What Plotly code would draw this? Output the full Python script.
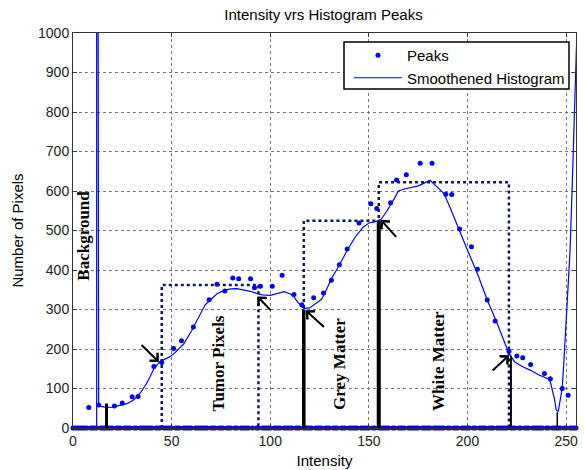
import plotly.graph_objects as go

# ---------------- data ----------------
intensity = list(range(0, 257))

peak_x = [8, 13, 21, 25, 30, 33, 41, 45, 51, 55, 61, 69, 73, 77, 81, 84, 90, 92, 95, 101,
          106, 112, 116, 122, 127, 131, 135, 139, 145, 151, 154, 161, 164, 169, 176, 182,
          189, 192, 196, 202, 205, 210, 214, 221, 225, 228, 232, 239, 242, 248, 251]
peak_y = [52, 58, 56, 63, 79, 80, 156, 166, 201, 221, 256, 325, 364, 347, 380, 378, 378,
          355, 359, 359, 387, 338, 312, 330, 342, 374, 413, 453, 519, 568, 556, 570, 628,
          641, 670, 670, 592, 591, 504, 459, 402, 324, 271, 194, 182, 178, 161, 138, 125,
          100, 83]

smooth_x = [0, 12, 12, 13, 15, 17, 20, 24, 27, 29,
            31, 34, 37, 39, 41, 44, 46, 49, 52, 56,
            60, 64, 67, 70, 73, 77, 80, 83, 87, 90,
            93, 96, 100, 104, 107, 110, 112, 114, 117, 120,
            123, 126, 128, 131, 135, 139, 143, 147, 150, 153,
            156, 159, 163, 165, 168, 172, 175, 178, 181, 184,
            188, 191, 195, 200, 205, 210, 215, 218, 221, 224,
            228, 232, 236, 241, 242, 244, 245, 246, 247, 248,
            249, 250, 251, 252, 253, 254, 255, 256]
smooth_y = [0, 0, 4000, 55, 54, 52, 53, 57, 61, 66,
            72, 88, 110, 129, 150, 168, 173, 180, 192, 212,
            245, 285, 312, 326, 340, 349, 352, 353, 350, 346,
            341, 337, 336, 342, 345, 340, 332, 318, 303, 304,
            314, 326, 345, 378, 412, 450, 483, 508, 519, 522,
            527, 548, 582, 600, 605, 609, 613, 620, 627, 613,
            594, 560, 510, 450, 391, 324, 265, 225, 189, 167,
            155, 146, 135, 124, 117, 75, 45, 42, 70, 100,
            180, 270, 330, 450, 600, 750, 940, 1090]

# threshold bars (intensity, height)
bar_x = [17, 117, 155, 222, 245.5]
bar_top = [62, 300, 525, 183, 40]
bar_w = [3, 3.5, 4, 2, 1.5]

# dotted class boxes: (left, right, top)
box_left = [45, 117, 155]
box_right = [94, 155, 221]
box_top = [362, 525, 622]

# arrows: tail -> head
arrow_tail_x = [34, 101, 128, 164.5, 212]
arrow_tail_y = [214, 294, 252, 480, 142]
arrow_head_x = [43.5, 93.5, 118, 156, 221]
arrow_head_y = [167, 333, 298, 527, 184]

# region labels
label_text = ["Background", "Tumor Pixels", "Grey Matter", "White Matter"]
label_x = [5.6, 73.9, 134.8, 185.6]
label_y = [487, 163, 162, 170]

# full Peaks series: zero everywhere except detected peaks
peaks_full = [0] * len(intensity)
for px, py in zip(peak_x, peak_y):
    peaks_full[px] = py

# ---------------- figure ----------------
fig = go.Figure()

navy = "#0b1a5a"
for l, r, t in zip(box_left, box_right, box_top):
    fig.add_trace(go.Scatter(x=[l, l, r, r], y=[0, t, t, 0], mode="lines",
                             line=dict(color=navy, width=2.5, dash="dot"),
                             showlegend=False, hoverinfo="skip"))

fig.add_trace(go.Scatter(x=intensity, y=peaks_full, mode="markers", name="Peaks",
                         marker=dict(color="#0000ff", size=5), cliponaxis=False))
fig.add_trace(go.Scatter(x=smooth_x, y=smooth_y, mode="lines", name="Smoothened Histogram",
                         line=dict(color="#0000ff", width=1.2)))

for bx, bt, bw in zip(bar_x, bar_top, bar_w):
    fig.add_trace(go.Scatter(x=[bx, bx], y=[0, bt], mode="lines",
                             line=dict(color="black", width=bw),
                             showlegend=False, hoverinfo="skip"))

serif = "Liberation Serif, Times New Roman, serif"
for t, x, y in zip(label_text, label_x, label_y):
    fig.add_annotation(x=x, y=y, xref="x", yref="y", text="<b>%s</b>" % t,
                       textangle=-90, showarrow=False,
                       font=dict(family=serif, size=17, color="black"))

for tx, ty, hx, hy in zip(arrow_tail_x, arrow_tail_y, arrow_head_x, arrow_head_y):
    fig.add_annotation(x=hx, y=hy, ax=tx, ay=ty, xref="x", yref="y",
                       axref="x", ayref="y", text="", showarrow=True,
                       arrowhead=4, arrowsize=1.1, arrowwidth=2, arrowcolor="black")

# legend frame (drawn as a shape so it can be sized like the reference)
fig.add_shape(type="rect", xref="paper", yref="paper",
              x0=(344 - 73) / 503, x1=(569 - 73) / 503,
              y0=(428 - 89) / 395, y1=(428 - 42) / 395,
              line=dict(color="black", width=1.5), fillcolor="white", layer="above")

sans = "Liberation Sans, Arial, Helvetica, sans-serif"
axis_common = dict(showline=True, linecolor="#333", linewidth=1, mirror="ticks",
                   ticks="inside", ticklen=4, tickcolor="#333", automargin=False,
                   showgrid=True, gridcolor="#777", gridwidth=1, griddash="dot",
                   zeroline=False, tickfont=dict(family=sans, size=14, color="#222"))

fig.update_layout(
    width=585, height=470,
    margin=dict(l=73, r=9, t=33, b=42),
    paper_bgcolor="white", plot_bgcolor="white",
    title=dict(text="Intensity vrs Histogram Peaks", x=0.553, xanchor="center",
               y=0.968, yanchor="middle",
               font=dict(family=sans, size=15, color="black")),
    xaxis=dict(range=[0, 255], tickvals=[0, 50, 100, 150, 200, 250],
               title=dict(text="Intensity", standoff=7,
                          font=dict(family=sans, size=15, color="black")),
               **axis_common),
    yaxis=dict(range=[0, 1000], tickvals=list(range(0, 1001, 100)),
               title=dict(text="Number of Pixels", standoff=10,
                          font=dict(family=sans, size=15, color="black")),
               **axis_common),
    legend=dict(x=0.988, y=(428 - 39) / 395, xanchor="right", yanchor="top",
                bgcolor="rgba(0,0,0,0)", borderwidth=0,
                font=dict(family=sans, size=15, color="black"),
                itemwidth=48, tracegroupgap=0),
    showlegend=True,
)

fig.write_html("out.html")
